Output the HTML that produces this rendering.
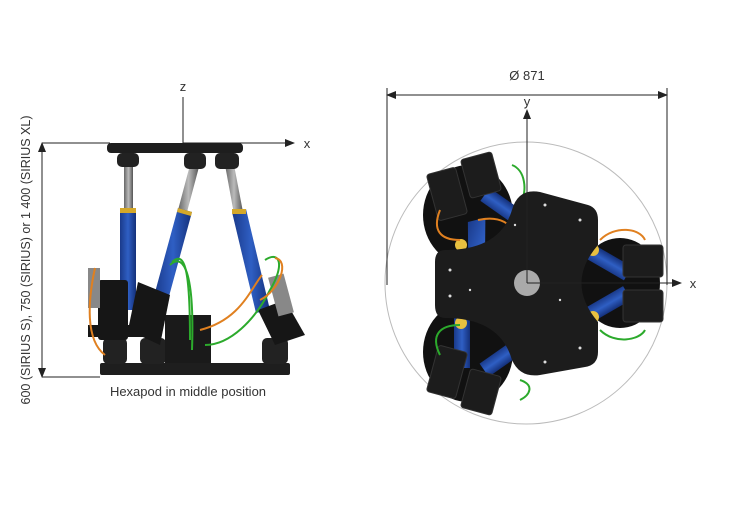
<!DOCTYPE html>
<html><head><style>
body{margin:0;background:#fff;width:750px;height:500px;overflow:hidden}
text{font-family:"Liberation Sans",sans-serif;fill:#333}
</style></head><body>
<svg width="750" height="500" viewBox="0 0 750 500">
<defs>
<marker id="a" markerWidth="10" markerHeight="8" refX="9" refY="4" orient="auto" markerUnits="userSpaceOnUse"><path d="M0,0 L10,4 L0,8z" fill="#222"/></marker>
<marker id="b" markerWidth="10" markerHeight="8" refX="1" refY="4" orient="auto" markerUnits="userSpaceOnUse"><path d="M10,0 L0,4 L10,8z" fill="#222"/></marker>
<linearGradient id="bl" x1="0" x2="1"><stop offset="0" stop-color="#1a3a8a"/><stop offset=".5" stop-color="#2f5fc4"/><stop offset="1" stop-color="#14307a"/></linearGradient>
<linearGradient id="gr" x1="0" x2="1"><stop offset="0" stop-color="#666"/><stop offset=".5" stop-color="#bbb"/><stop offset="1" stop-color="#555"/></linearGradient>
</defs>
<!-- LEFT -->
<g stroke="#222" stroke-width="1" fill="none">
<line x1="42" y1="143" x2="42" y2="377" marker-start="url(#b)" marker-end="url(#a)"/>
<line x1="42" y1="143" x2="110" y2="143"/>
<line x1="42" y1="377" x2="100" y2="377"/>
<line x1="183" y1="97" x2="183" y2="143"/>
<line x1="183" y1="143" x2="294" y2="143" marker-end="url(#a)"/>
</g>
<text x="183" y="91" font-size="13" text-anchor="middle">z</text>
<text x="307" y="148" font-size="13" text-anchor="middle">x</text>
<text transform="translate(30,260) rotate(-90)" font-size="12.5" text-anchor="middle">600 (SIRIUS S), 750 (SIRIUS) or 1 400 (SIRIUS XL)</text>
<text x="188" y="396" font-size="13" text-anchor="middle">Hexapod in middle position</text>
<!-- legs -->
<g>
<rect x="124" y="165" width="9" height="50" fill="url(#gr)"/>
<rect x="120" y="210" width="16" height="100" fill="url(#bl)"/>
<rect x="120" y="208" width="16" height="5" fill="#d4a82a"/>
<polygon points="190,165 199,167 187,212 178,210" fill="url(#gr)"/>
<polygon points="178,208 192,212 168,300 154,296" fill="url(#bl)"/>
<polygon points="178,208 192,212 191,216 177,212" fill="#d4a82a"/>
<polygon points="225,165 234,165 243,212 234,214" fill="url(#gr)"/>
<polygon points="232,212 246,209 270,310 256,313" fill="url(#bl)"/>
<rect x="232" y="209" width="14" height="5" fill="#d4a82a"/>
</g>
<rect x="107" y="143" width="136" height="10" rx="4" fill="#1e1e1e"/>
<g fill="#222"><rect x="117" y="153" width="22" height="14" rx="5"/><rect x="184" y="153" width="22" height="16" rx="5"/><rect x="215" y="153" width="24" height="16" rx="5"/></g>
<rect x="100" y="363" width="190" height="12" rx="2" fill="#1e1e1e"/>
<g fill="#222"><rect x="103" y="338" width="24" height="26" rx="5"/><rect x="140" y="338" width="26" height="26" rx="5"/><rect x="262" y="338" width="26" height="26" rx="5"/></g>
<rect x="165" y="315" width="46" height="48" fill="#1a1a1a"/>
<g fill="#161616">
<rect x="98" y="280" width="30" height="60" rx="3"/>
<polygon points="138,282 170,295 160,345 128,330"/>
<polygon points="258,310 285,300 305,335 275,345"/>
<rect x="88" y="325" width="60" height="12"/>
</g>
<rect x="88" y="268" width="12" height="40" fill="#888"/>
<rect x="273" y="275" width="16" height="40" fill="#888" transform="rotate(-15 281 295)"/>
<g fill="none" stroke-width="2">
<path d="M95,268 C88,300 85,340 105,355" stroke="#e08020"/>
<path d="M172,262 C185,250 190,270 190,340" stroke="#2caa2c"/>
<path d="M170,265 C180,255 195,260 192,350" stroke="#2caa2c"/>
<path d="M262,275 C250,290 240,320 200,330" stroke="#e08020"/>
<path d="M265,260 C280,250 285,265 270,290 C255,320 230,345 205,345" stroke="#2caa2c"/>
<path d="M275,258 C290,260 280,290 260,300" stroke="#e08020"/>
</g>
<!-- RIGHT -->
<circle cx="526" cy="283" r="141" fill="none" stroke="#bbb" stroke-width="1"/>
<g stroke="#222" stroke-width="1" fill="none">
<line x1="387" y1="95" x2="667" y2="95" marker-start="url(#b)" marker-end="url(#a)"/>
<line x1="387" y1="88" x2="387" y2="285"/>
<line x1="667" y1="88" x2="667" y2="285"/>
</g>
<text x="527" y="80" font-size="13" text-anchor="middle">Ø 871</text>
<!-- base plate -->
<g fill="#111">
<ellipse cx="468" cy="215" rx="45" ry="50"/>
<ellipse cx="468" cy="352" rx="45" ry="50"/>
<ellipse cx="620" cy="283" rx="40" ry="45"/>
</g>
<!-- actuators -->
<g fill="url(#bl)">
<polygon points="455,225 470,215 500,300 485,305" transform="rotate(20 470 260)"/>
<rect x="495" y="185" width="16" height="45" transform="rotate(-55 503 207)"/>
<rect x="454" y="250" width="16" height="60" transform="rotate(5 462 280)"/>
<rect x="454" y="318" width="16" height="50"/>
<rect x="495" y="335" width="16" height="45" transform="rotate(55 503 357)"/>
<rect x="600" y="240" width="16" height="45" transform="rotate(-60 608 262)"/>
<rect x="600" y="282" width="16" height="45" transform="rotate(60 608 304)"/>
</g>
<g fill="#1c1c1c" stroke="#333">
<rect x="432" y="170" width="30" height="48" rx="3" transform="rotate(-15 447 194)"/>
<rect x="465" y="155" width="32" height="40" rx="3" transform="rotate(-15 481 175)"/>
<rect x="432" y="348" width="30" height="48" rx="3" transform="rotate(15 447 372)"/>
<rect x="465" y="372" width="32" height="40" rx="3" transform="rotate(15 481 392)"/>
<rect x="623" y="245" width="40" height="32" rx="3"/>
<rect x="623" y="290" width="40" height="32" rx="3"/>
</g>
<g fill="#e8c040"><circle cx="530" cy="208" r="6"/><circle cx="461" cy="245" r="6"/><circle cx="461" cy="323" r="6"/><circle cx="528" cy="354" r="6"/><circle cx="593" cy="250" r="6"/><circle cx="593" cy="317" r="6"/></g>
<g fill="none" stroke-width="2">
<path d="M512,165 C525,170 528,190 520,205" stroke="#2caa2c"/>
<path d="M440,210 C432,230 440,240 460,240" stroke="#e08020"/>
<path d="M478,220 C500,215 515,225 510,235" stroke="#e08020"/>
<path d="M440,355 C430,335 440,325 460,325" stroke="#2caa2c"/>
<path d="M520,380 C535,385 530,395 520,400" stroke="#2caa2c"/>
<path d="M600,240 C615,225 640,228 645,240" stroke="#e08020"/>
<path d="M600,330 C615,345 640,340 645,330" stroke="#2caa2c"/>
</g>
<!-- top plate -->
<path d="M540,192 L588,205 Q598,208 598,220 L598,245 Q565,283 598,322 L598,352 Q598,365 585,367 L540,375 Q520,378 512,360 Q500,318 445,318 Q435,318 435,305 L435,262 Q435,250 445,250 Q500,250 512,210 Q518,188 540,192Z" fill="#1c1c1c"/>
<g fill="#ddd"><circle cx="450" cy="270" r="1.5"/><circle cx="450" cy="296" r="1.5"/><circle cx="545" cy="205" r="1.5"/><circle cx="580" cy="220" r="1.5"/><circle cx="545" cy="362" r="1.5"/><circle cx="580" cy="348" r="1.5"/><circle cx="515" cy="225" r="1.2"/><circle cx="470" cy="290" r="1.2"/><circle cx="560" cy="300" r="1.2"/></g>
<circle cx="527" cy="283" r="13" fill="#aaa"/>
<g stroke="#222" stroke-width="1" fill="none">
<line x1="527" y1="283" x2="527" y2="110" marker-end="url(#a)"/>
<line x1="527" y1="283" x2="681" y2="283" marker-end="url(#a)"/>
</g>
<text x="527" y="106" font-size="13" text-anchor="middle">y</text>
<text x="693" y="288" font-size="13" text-anchor="middle">x</text>
</svg>
</body></html>
